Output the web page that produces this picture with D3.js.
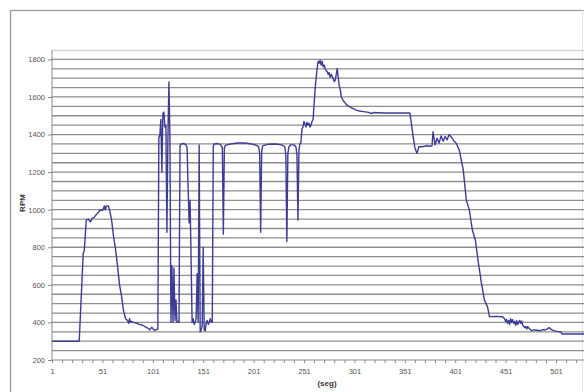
<!DOCTYPE html>
<html><head><meta charset="utf-8">
<script src="https://cdn.jsdelivr.net/npm/d3@7"></script>
<style>html,body{margin:0;padding:0;background:#fff;}svg{display:block;}</style>
</head><body>
<svg id="c" width="584" height="392"></svg>
<script>
const seg = [1,28,32,33,35,37,39,41,43,45,47,49,51,53,54,55,57,58,60,62,64,66,68,70,72,74,76,77,78,79,80,82,85,88,91,94,96,98,100,102,104,106,
107,108,109,110,111,112,113,114,115,116,117,118,119,120,121,122,123,124,125,126,127,128,129,132,134,135,136,137,138,140,141,142,143,144,145,146,147,148,149,150,151,152,153,154,155,156,157,158,159,160,
161,162,165,168,170,171,172,173,178,185,192,199,204,206,207,208,209,210,215,222,229,232,233,234,235,236,238,241,243,244,245,246,247,248,249,250,
251,252,253,254,255,256,257,258,259,260,261,262,263,264,265,266,267,268,269,270,271,272,273,274,275,276,277,278,279,281,282,283,284,285,286,287,288,290,292,294,297,302,306,310,315,318,320,330,340,350,356,
357,359,361,363,365,368,372,377,378,379,381,383,385,387,389,391,393,395,398,400,402,405,409,412,415,418,421,424,427,430,433,435,440,448,
450,451,452,453,454,455,456,457,458,459,460,461,462,463,464,465,466,467,468,469,470,471,472,473,474,475,476,477,479,482,485,488,490,492,494,495,497,499,501,504,506,507,535];
const rpm = [300,300,770,780,945,950,935,955,960,975,985,1000,995,1020,1000,1020,1020,1000,950,860,790,700,600,540,460,420,410,395,420,400,405,400,395,390,385,375,370,360,375,360,360,365,
1380,1400,1480,1200,1510,1520,1440,1450,880,1380,1680,1380,400,700,400,690,410,520,400,405,400,1340,1350,1352,1345,1330,1120,930,1050,400,420,390,400,420,660,400,1345,350,360,380,800,360,355,400,410,390,400,420,400,400,
1340,1350,1352,1348,1330,870,1330,1342,1350,1355,1355,1350,1342,1335,1300,880,1310,1340,1348,1350,1345,1335,1290,830,1300,1335,1345,1345,1335,1290,945,1320,1350,1360,1430,1440,
1470,1455,1440,1465,1450,1460,1440,1450,1470,1480,1560,1640,1700,1750,1790,1780,1795,1770,1790,1760,1770,1750,1740,1735,1720,1730,1705,1720,1710,1682,1690,1720,1752,1700,1660,1638,1600,1580,1567,1555,1546,1531,1525,1522,1518,1512,1517,1515,1515,1515,1515,
1480,1400,1330,1300,1335,1335,1340,1338,1340,1415,1345,1380,1354,1393,1364,1390,1372,1400,1380,1364,1354,1318,1212,1052,999,892,839,717,610,519,484,431,432,430,
420,405,415,395,410,390,420,400,415,395,405,385,410,390,400,410,395,408,385,380,372,378,365,378,370,365,360,356,360,358,356,362,360,364,372,368,360,356,354,350,349,338,338];
const xLabels = [1,51,101,151,201,251,301,351,401,451,501];
const yLabels = [200,400,600,800,1000,1200,1400,1600,1800];

const svg = d3.select('#c');
const x = d3.scaleLinear().domain([1,501]).range([52,556]);
const y = d3.scaleLinear().domain([200,1850]).range([360,50]);
const font = "'Liberation Sans', Arial, sans-serif";

// chart area border
svg.append('rect').attr('x',10.5).attr('y',10.5).attr('width',620).attr('height',420)
  .attr('fill','#fff').attr('stroke','#9a9a9a').attr('stroke-width',1.3);
svg.append('line').attr('x1',582.5).attr('x2',582.5).attr('y1',10).attr('y2',392).attr('stroke','#e4e4e4');

// plot area top border
svg.append('line').attr('x1',52).attr('x2',600).attr('y1',y(1850)+0.5).attr('y2',y(1850)+0.5)
  .attr('stroke','#d4d4d4').attr('stroke-width',1.5);

// gridlines every 50
const grid = d3.range(250,1850,50);
svg.append('g').selectAll('line').data(grid).join('line')
  .attr('x1',52).attr('x2',600).attr('y1',d=>y(d)).attr('y2',d=>y(d))
  .attr('stroke','#8e8e8e').attr('stroke-width',1.3);

// y axis
const yAxis = d3.axisLeft(y).tickValues(yLabels).tickSize(4).tickPadding(3).tickFormat(d3.format('d'));
const gy = svg.append('g').attr('transform','translate(52,0)').call(yAxis);
gy.select('.domain').attr('stroke','#8a8a8a').attr('d','M0,50V360');
gy.selectAll('.tick line').attr('stroke','#8a8a8a');
gy.selectAll('text').attr('font-family',font).attr('font-size',7.5).attr('fill','#555');

// x axis
const xAxis = d3.axisBottom(x).tickValues(d3.range(1,541,10)).tickSize(3).tickPadding(6)
  .tickFormat(d=> xLabels.includes(d) ? d : '');
const gx = svg.append('g').attr('transform','translate(0,360)').call(xAxis);
gx.select('.domain').attr('stroke','#8a8a8a').attr('d','M52,0H600');
gx.selectAll('.tick line').attr('stroke','#8a8a8a');
gx.selectAll('text').attr('font-family',font).attr('font-size',7.5).attr('fill','#555');

// series line
const line = d3.line().x((d,i)=>x(seg[i])).y((d,i)=>y(rpm[i]));
svg.append('path').datum(rpm).attr('d',line)
  .attr('fill','none').attr('stroke','#3c3c96').attr('stroke-width',1.4).attr('stroke-linejoin','round');

// axis titles
svg.append('text').attr('transform','translate(25,203) rotate(-90)').attr('text-anchor','middle')
  .attr('font-family',font).attr('font-size',8).attr('font-weight','bold').attr('fill','#333').text('RPM');
svg.append('text').attr('x',327).attr('y',386).attr('text-anchor','middle')
  .attr('font-family',font).attr('font-size',8).attr('font-weight','bold').attr('fill','#333').text('(seg)');
</script>
</body></html>
